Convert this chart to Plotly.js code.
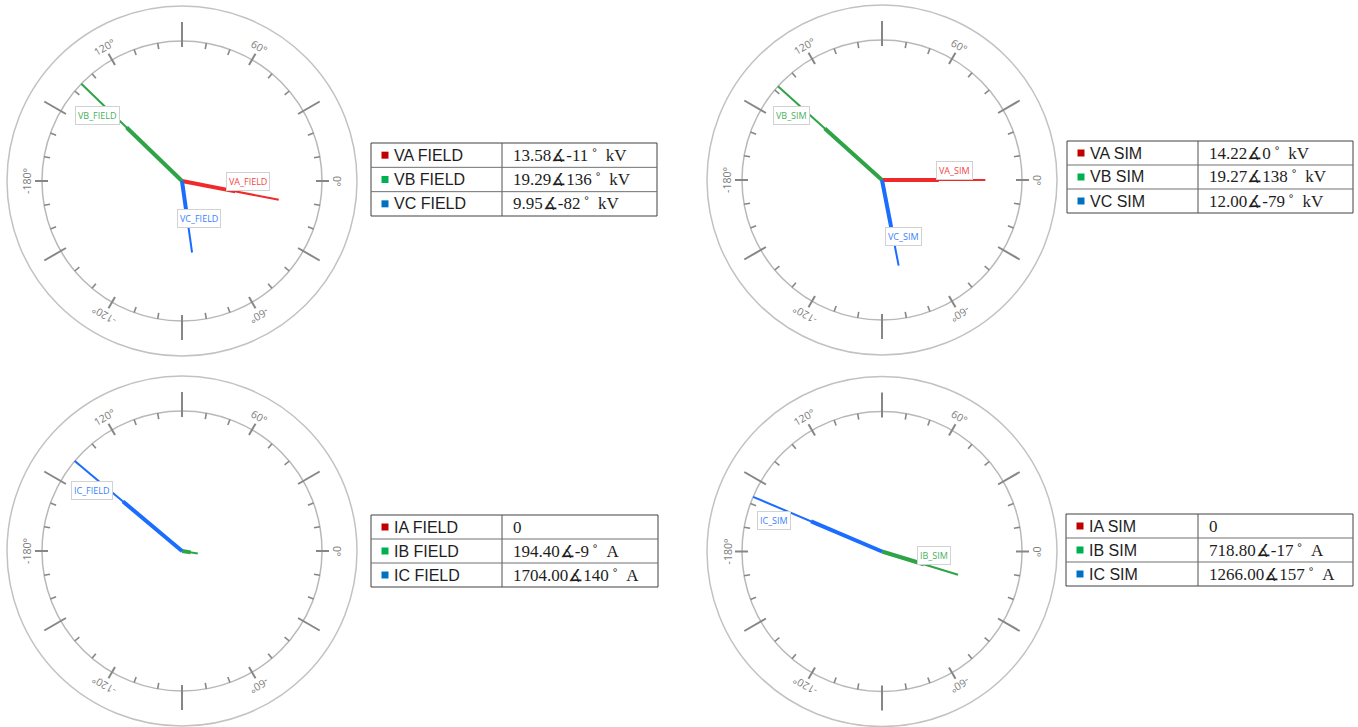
<!DOCTYPE html>
<html><head><meta charset="utf-8">
<script src="https://cdn.plot.ly/plotly-3.0.1.min.js"></script>
<style>html,body{margin:0;padding:0;background:#fff;overflow:hidden}#chart{width:1358px;height:727px;}</style>
</head><body><div id="chart"></div>
<script>
// ---------------- DATA ----------------
const vFieldNames = ["VA FIELD", "VB FIELD", "VC FIELD"];
const vFieldTags  = ["VA_FIELD", "VB_FIELD", "VC_FIELD"];
const vFieldMag   = [13.58, 19.29, 9.95];
const vFieldAng   = [-11, 136, -82];

const vSimNames = ["VA SIM", "VB SIM", "VC SIM"];
const vSimTags  = ["VA_SIM", "VB_SIM", "VC_SIM"];
const vSimMag   = [14.22, 19.27, 12.00];
const vSimAng   = [0, 138, -79];

const iFieldNames = ["IA FIELD", "IB FIELD", "IC FIELD"];
const iFieldTags  = ["IA_FIELD", "IB_FIELD", "IC_FIELD"];
const iFieldMag   = [0, 194.40, 1704.00];
const iFieldAng   = [0, -9, 140];

const iSimNames = ["IA SIM", "IB SIM", "IC SIM"];
const iSimTags  = ["IA_SIM", "IB_SIM", "IC_SIM"];
const iSimMag   = [0, 718.80, 1266.00];
const iSimAng   = [0, -17, 157];

const dialTickAngles = [0, 60, 120, 180, -120, -60];
const dialTickLabels = ["0°", "60°", "120°", "-180°", "-120°", "-60°"];

// ---------------- STYLE / LAYOUT ----------------
const W = 1358, H = 727;
const lineColors  = ["#f02a2a", "#2ea447", "#1a6dff"];
const labelColors = ["#f24545", "#46b25a", "#3a7fff"];
const swatchColors = ["#c00000", "#00b050", "#0070c0"];

const panels = [
  {names: vFieldNames, tags: vFieldTags, mag: vFieldMag, ang: vFieldAng, unit: "kV",
   cx: 182, cy: 181, tb: {x0: 371, xd: 502, x1: 657, y0: 143, y1: 216},
   shifts: [[13, 10], [-29, 12], [11, 2]]},
  {names: vSimNames, tags: vSimTags, mag: vSimMag, ang: vSimAng, unit: "kV",
   cx: 882, cy: 180, tb: {x0: 1067, xd: 1198, x1: 1353, y0: 141, y1: 213},
   shifts: [[16, 10], [-33, 13], [12, -9]]},
  {names: iFieldNames, tags: iFieldTags, mag: iFieldMag, ang: iFieldAng, unit: "A",
   cx: 182, cy: 551, tb: {x0: 371, xd: 502, x1: 658, y0: 515, y1: 587},
   shifts: [null, null, [-31, 11]]},
  {names: iSimNames, tags: iSimTags, mag: iSimMag, ang: iSimAng, unit: "A",
   cx: 882, cy: 551.5, tb: {x0: 1066, xd: 1198, x1: 1353, y0: 514, y1: 586},
   shifts: [null, [10, 9], [-37, 1]]}
];

const R_IN = 140, R_OUT = 175;
const traces = [], shapes = [], annotations = [];
const layout = {
  width: W, height: H, margin: {l: 0, r: 0, t: 0, b: 0},
  paper_bgcolor: "#ffffff", plot_bgcolor: "rgba(0,0,0,0)",
  showlegend: false, hovermode: false,
  font: {family: "Open Sans, sans-serif"}
};
const rad = d => d * Math.PI / 180;

panels.forEach((p, k) => {
  const idx = k === 0 ? "" : String(k + 1);
  const xa = "x" + idx, ya = "y" + idx;
  const maxMag = Math.max(...p.mag);
  const s = R_IN / maxMag;             // px per data unit
  const u = px => px / s;              // px -> data units
  const bx0 = Math.max(0, p.cx - 185), bx1 = Math.min(W, p.cx + 185);
  const by0 = Math.max(0, p.cy - 185), by1 = Math.min(H, p.cy + 185);
  layout["xaxis" + idx] = {
    domain: [bx0 / W, bx1 / W], range: [(bx0 - p.cx) / s, (bx1 - p.cx) / s],
    visible: false, showgrid: false, zeroline: false, fixedrange: true, anchor: ya
  };
  layout["yaxis" + idx] = {
    domain: [1 - by1 / H, 1 - by0 / H], range: [(p.cy - by1) / s, (p.cy - by0) / s],
    visible: false, showgrid: false, zeroline: false, fixedrange: true, anchor: xa
  };
  shapes.push({type: "circle", xref: xa, yref: ya, x0: -u(R_OUT), x1: u(R_OUT), y0: -u(R_OUT), y1: u(R_OUT),
    line: {color: "#c2c2c2", width: 1.5}, layer: "below"});
  shapes.push({type: "circle", xref: xa, yref: ya, x0: -u(R_IN), x1: u(R_IN), y0: -u(R_IN), y1: u(R_IN),
    line: {color: "#b8b8b8", width: 1.5}, layer: "below"});
  for (let a = -170; a <= 180; a += 10) {
    let r0, r1, w;
    if (a % 60 === 0) { r0 = 134; r1 = 147; w = 2; }
    else if (a % 30 === 0) { r0 = 134; r1 = 159; w = 2; }
    else { r0 = 134; r1 = 140; w = 1.6; }
    shapes.push({type: "line", xref: xa, yref: ya,
      x0: u(r0) * Math.cos(rad(a)), y0: u(r0) * Math.sin(rad(a)),
      x1: u(r1) * Math.cos(rad(a)), y1: u(r1) * Math.sin(rad(a)),
      line: {color: "#868686", width: w}, layer: "below"});
  }
  dialTickAngles.forEach((a, i) => {
    let ta = 90 - a; while (ta > 180) ta -= 360; while (ta <= -180) ta += 360;
    annotations.push({xref: xa, yref: ya, x: u(155) * Math.cos(rad(a)), y: u(155) * Math.sin(rad(a)),
      text: dialTickLabels[i], showarrow: false, textangle: ta, xanchor: "center", yanchor: "middle",
      font: {family: "Open Sans, sans-serif", size: 10.5, color: "#7c7c7c"}});
  });
  p.mag.forEach((m, i) => {
    if (m <= 0) return;
    const c = Math.cos(rad(p.ang[i])), sn = Math.sin(rad(p.ang[i]));
    traces.push({type: "scatter", mode: "lines", xaxis: xa, yaxis: ya,
      x: [0, m * c], y: [0, m * sn], line: {color: lineColors[i], width: 2}, hoverinfo: "skip"});
    traces.push({type: "scatter", mode: "lines", xaxis: xa, yaxis: ya,
      x: [0, 0.55 * m * c], y: [0, 0.55 * m * sn], line: {color: lineColors[i], width: 4}, hoverinfo: "skip"});
    const sh = p.shifts[i];
    if (sh) {
      annotations.push({xref: xa, yref: ya, x: 0.55 * m * c, y: 0.55 * m * sn, text: p.tags[i],
        showarrow: false, xanchor: "center", yanchor: "middle", xshift: sh[0], yshift: sh[1],
        bgcolor: "#ffffff", bordercolor: "#d2d2d2", borderwidth: 1, borderpad: 2,
        font: {family: "Open Sans, sans-serif", size: 9, color: labelColors[i]}});
    }
  });
  const t = p.tb, rowH = (t.y1 - t.y0) / 3;
  const px = v => v / W, py = v => 1 - v / H;
  shapes.push({type: "rect", xref: "paper", yref: "paper", x0: px(t.x0), x1: px(t.x1), y0: py(t.y1), y1: py(t.y0),
    line: {color: "#404040", width: 1}, fillcolor: "rgba(0,0,0,0)"});
  shapes.push({type: "line", xref: "paper", yref: "paper", x0: px(t.xd), x1: px(t.xd), y0: py(t.y1), y1: py(t.y0),
    line: {color: "#505050", width: 1}});
  for (let r = 1; r < 3; r++) {
    shapes.push({type: "line", xref: "paper", yref: "paper", x0: px(t.x0), x1: px(t.x1),
      y0: py(t.y0 + r * rowH), y1: py(t.y0 + r * rowH), line: {color: "#707070", width: 1}});
  }
  p.names.forEach((nm, i) => {
    const yc = t.y0 + (i + 0.5) * rowH;
    shapes.push({type: "rect", xref: "paper", yref: "paper", x0: px(t.x0 + 10.5), x1: px(t.x0 + 17.5),
      y0: py(yc + 3.5), y1: py(yc - 3.5), line: {width: 0}, fillcolor: swatchColors[i]});
    annotations.push({xref: "paper", yref: "paper", x: px(t.x0 + 21), y: py(yc), text: nm, showarrow: false,
      xanchor: "left", yanchor: "middle", font: {family: "Liberation Sans, Arial, sans-serif", size: 16, color: "#1e1e1e"}});
    const m = p.mag[i];
    const val = m === 0 ? "0" : m.toFixed(2) + "∡" + p.ang[i] + "\u2009˚\u2002" + p.unit;
    annotations.push({xref: "paper", yref: "paper", x: px(t.xd + 9), y: py(yc), text: val, showarrow: false,
      xanchor: "left", yanchor: "middle", font: {family: "Liberation Serif, serif", size: 17, color: "#1e1e1e"}});
  });
});

layout.shapes = shapes;
layout.annotations = annotations;
Plotly.newPlot("chart", traces, layout, {staticPlot: true, displayModeBar: false});
</script>
</body></html>
